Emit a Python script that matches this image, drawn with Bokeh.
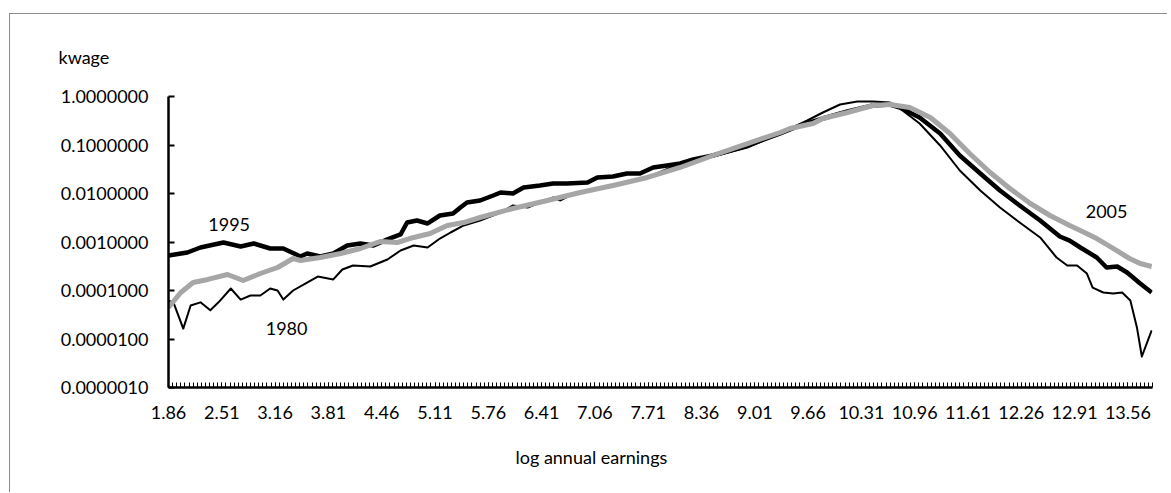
from bokeh.plotting import figure
from bokeh.models import Range1d, FixedTicker, Label, Title
from bokeh.embed import file_html
from bokeh.resources import INLINE

# ---------------- data ----------------
x_tick_labels = ["1.86", "2.51", "3.16", "3.81", "4.46", "5.11", "5.76", "6.41", "7.06", "7.71",
                 "8.36", "9.01", "9.66", "10.31", "10.96", "11.61", "12.26", "12.91", "13.56"]
y_tick_labels = ["0.0000010", "0.0000100", "0.0001000", "0.0010000", "0.0100000", "0.1000000", "1.0000000"]

x_1980 = [1.86, 1.92, 2.04, 2.13, 2.25, 2.37, 2.47, 2.62, 2.74, 2.86, 2.98, 3.10, 3.19, 3.26,
          3.38, 3.55, 3.68, 3.87, 3.98, 4.11, 4.32, 4.53, 4.69, 4.85, 5.02, 5.17, 5.30, 5.46,
          5.66, 5.91, 6.06, 6.24, 6.39, 6.55, 6.64, 6.80, 7.28, 7.70, 8.10, 8.50, 8.92, 9.32,
          9.65, 9.84, 10.05, 10.26, 10.45, 10.66, 10.78, 11.02, 11.27, 11.51, 11.76, 12.00,
          12.24, 12.49, 12.69, 12.82, 12.94, 13.06, 13.13, 13.26, 13.38, 13.49, 13.59, 13.67,
          13.73, 13.85]
y_1980 = [6.2e-5, 5.7e-5, 1.64e-5, 4.9e-5, 5.7e-5, 3.9e-5, 5.7e-5, 1.10e-4, 6.5e-5, 7.9e-5,
          7.9e-5, 1.10e-4, 1.00e-4, 6.5e-5, 1.00e-4, 1.46e-4, 1.94e-4, 1.69e-4, 2.71e-4, 3.28e-4,
          3.13e-4, 4.36e-4, 6.68e-4, 8.47e-4, 7.70e-4, 1.18e-3, 1.57e-3, 2.19e-3, 2.77e-3, 4.06e-3,
          5.66e-3, 5.14e-3, 6.52e-3, 8.28e-3, 7.18e-3, 1.00e-2, 1.39e-2, 2.14e-2, 4.16e-2, 5.79e-2,
          8.88e-2, 0.173, 0.320, 0.468, 0.684, 0.789, 0.789, 0.752, 0.566, 0.277,
          0.0977, 0.0298, 0.0115, 5.14e-3, 2.52e-3, 1.24e-3, 4.79e-4, 3.28e-4, 3.28e-4, 2.24e-4,
          1.15e-4, 9.10e-5, 8.67e-5, 9.10e-5, 6.22e-5, 1.73e-5, 4.36e-6, 1.50e-5]

x_1995 = [1.86, 2.09, 2.25, 2.53, 2.74, 2.90, 3.10, 3.26, 3.47, 3.55, 3.71, 3.87, 4.04, 4.20,
          4.36, 4.53, 4.69, 4.77, 4.89, 5.02, 5.17, 5.33, 5.42, 5.50, 5.66, 5.82, 5.91, 6.06,
          6.19, 6.39, 6.55, 6.72, 6.97, 7.09, 7.28, 7.45, 7.61, 7.77, 7.94, 8.10, 8.26, 8.50,
          8.92, 9.32, 9.56, 9.84, 10.14, 10.45, 10.66, 10.78, 11.02, 11.27, 11.51, 11.76, 12.00,
          12.24, 12.49, 12.73, 12.85, 12.98, 13.18, 13.30, 13.43, 13.55, 13.71, 13.85]
y_1995 = [5.27e-4, 6.08e-4, 7.70e-4, 9.77e-4, 8.08e-4, 9.31e-4, 7.35e-4, 7.35e-4, 5.02e-4, 5.79e-4,
          5.02e-4, 5.79e-4, 8.47e-4, 9.31e-4, 8.47e-4, 1.13e-3, 1.43e-3, 2.52e-3, 2.77e-3, 2.41e-3,
          3.52e-3, 3.87e-3, 5.14e-3, 6.52e-3, 7.18e-3, 9.10e-3, 1.05e-2, 1.00e-2, 1.33e-2, 1.46e-2,
          1.61e-2, 1.61e-2, 1.69e-2, 2.14e-2, 2.24e-2, 2.58e-2, 2.58e-2, 3.44e-2, 3.78e-2, 4.16e-2,
          5.02e-2, 6.08e-2, 9.77e-2, 0.173, 0.252, 0.352, 0.490, 0.652, 0.684, 0.593,
          0.369, 0.173, 0.0608, 0.0258, 0.0115, 5.66e-3, 2.77e-3, 1.30e-3, 1.07e-3, 7.70e-4,
          4.79e-4, 2.98e-4, 3.13e-4, 2.35e-4, 1.39e-4, 9.10e-5]

x_2005 = [1.86, 2.01, 2.16, 2.34, 2.58, 2.77, 2.98, 3.19, 3.38, 3.47, 3.71, 3.96, 4.20, 4.44,
          4.65, 4.85, 5.05, 5.26, 5.46, 5.66, 6.06, 6.48, 6.88, 7.28, 7.70, 8.10, 8.50, 8.92,
          9.32, 9.44, 9.72, 9.84, 10.14, 10.45, 10.66, 10.90, 11.15, 11.39, 11.63, 11.88, 12.12,
          12.37, 12.61, 12.85, 12.98, 13.18, 13.38, 13.58, 13.71, 13.85]
y_2005 = [4.46e-5, 9.10e-5, 1.46e-4, 1.69e-4, 2.14e-4, 1.61e-4, 2.24e-4, 2.98e-4, 4.57e-4, 4.16e-4,
          4.79e-4, 5.79e-4, 7.35e-4, 1.02e-3, 9.77e-4, 1.24e-3, 1.50e-3, 2.19e-3, 2.52e-3, 3.20e-3,
          4.91e-3, 7.18e-3, 1.05e-2, 1.46e-2, 2.14e-2, 3.44e-2, 6.08e-2, 0.107, 0.181, 0.219,
          0.277, 0.352, 0.468, 0.652, 0.684, 0.593, 0.369, 0.173, 0.0668, 0.0271,
          0.0127, 6.22e-3, 3.52e-3, 2.19e-3, 1.73e-3, 1.18e-3, 7.35e-4, 4.57e-4, 3.60e-4, 3.13e-4]

# ---------------- figure ----------------
FONT = "Lato"
FS = "18px"

x_ticks = [float(s) for s in x_tick_labels]
y_ticks = [float(s) for s in y_tick_labels]
x_minor = [round(1.86 + 0.05 * i, 2) for i in range(241)]

W, H = 1158, 479
p = figure(width=W, height=H, y_axis_type="log",
           x_range=Range1d(1.86, 13.86), y_range=Range1d(1e-6, 1.0),
           output_backend="svg", toolbar_location=None,
           min_border_left=158, min_border_right=16,
           min_border_top=82, min_border_bottom=106)
p.styles = {"margin-left": "9px", "margin-top": "13px",
            "border-left": "1px solid #8c8c8c", "border-top": "1px solid #8c8c8c"}
p.outline_line_color = None
p.xgrid.grid_line_color = None
p.ygrid.grid_line_color = None
p.background_fill_color = "white"
p.border_fill_color = "white"

# y-axis title written horizontally above the plot area, left of the axis
p.title.text = "kwage"
p.title.align = "left"
p.title.offset = -110
p.title.standoff = 57
p.title.text_font = FONT
p.title.text_font_size = FS
p.title.text_font_style = "normal"
p.title.text_color = "black"

p.add_layout(Title(text="log annual earnings", align="left", offset=347, standoff=44,
                   text_font=FONT, text_font_size=FS, text_font_style="normal",
                   text_color="black"), "below")

xa = p.xaxis[0]
xa.ticker = FixedTicker(ticks=x_ticks, minor_ticks=x_minor)
xa.major_label_overrides = {float(s): s for s in x_tick_labels}
xa.axis_line_color = "black"
xa.axis_line_width = 2.5
xa.major_tick_in = 5
xa.major_tick_out = 0
xa.minor_tick_in = 5
xa.minor_tick_out = 0
xa.major_tick_line_color = "black"
xa.minor_tick_line_color = "black"
xa.major_tick_line_width = 1
xa.minor_tick_line_width = 1
xa.major_label_text_font = FONT
xa.major_label_text_font_size = FS
xa.major_label_text_color = "black"
xa.major_label_standoff = 18

ya = p.yaxis[0]
ya.ticker = FixedTicker(ticks=y_ticks, minor_ticks=[])
ya.major_label_overrides = {float(s): s for s in y_tick_labels}
ya.axis_line_color = "black"
ya.axis_line_width = 2.5
ya.major_tick_in = 6
ya.major_tick_out = 0
ya.major_tick_line_width = 2
ya.major_tick_line_color = "black"
ya.minor_tick_line_color = None
ya.major_label_text_font = FONT
ya.major_label_text_font_size = FS
ya.major_label_text_color = "black"
ya.major_label_standoff = 20

p.line(x_1980, y_1980, line_color="black", line_width=2, line_join="round")
p.line(x_1995, y_1995, line_color="black", line_width=4.5, line_join="round")
p.line(x_2005, y_2005, line_color="#a6a6a6", line_width=5, line_join="round")

for txt, xx, yy in [("1995", 2.60, 0.00229), ("1980", 3.30, 1.65e-5), ("2005", 13.30, 0.00425)]:
    p.add_layout(Label(x=xx, y=yy, text=txt, text_font=FONT, text_font_size=FS,
                       text_align="center", text_baseline="middle", text_color="black"))

open("out.html", "w").write(file_html(p, INLINE))
